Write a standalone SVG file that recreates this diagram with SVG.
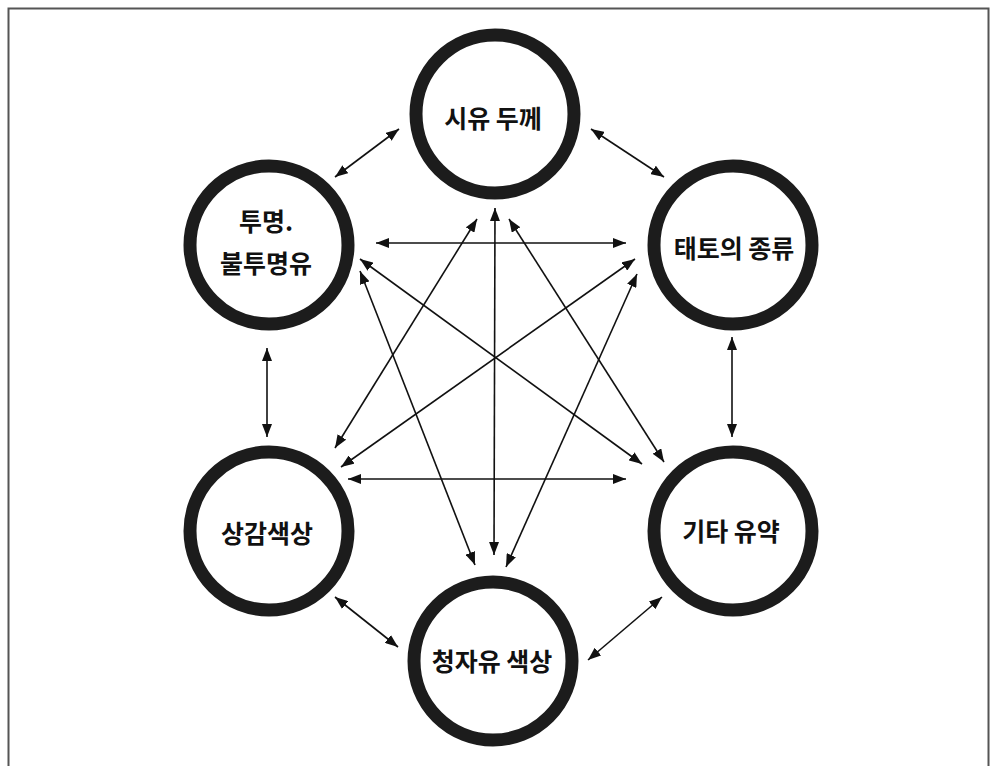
<svg xmlns="http://www.w3.org/2000/svg" width="991" height="766" viewBox="0 0 991 766">
<style>
.node circle{fill:#fff;stroke:#1c1c1c;stroke-width:13}
.node text{font-family:"Noto Sans CJK KR","Noto Sans",sans-serif;font-weight:bold;font-size:25px;fill:#111;text-anchor:middle;dominant-baseline:central}
.conn line{stroke:#111;stroke-width:1.6;marker-start:url(#ah);marker-end:url(#ah)}
</style>
<defs>
<marker id="ah" markerUnits="userSpaceOnUse" markerWidth="13" markerHeight="10" refX="13" refY="5" orient="auto-start-reverse">
<path d="M0,0 L13,5 L0,10 z" fill="#111"/>
</marker>
</defs>
<rect x="0" y="0" width="991" height="766" fill="#fff"/>
<rect x="8.5" y="8.5" width="980" height="770" fill="none" stroke="#555" stroke-width="2"/>
<g class="conn">
<line x1="399" y1="129" x2="335" y2="177"/>
<line x1="591" y1="129" x2="664" y2="177"/>
<line x1="267" y1="348" x2="267" y2="437"/>
<line x1="732" y1="337" x2="732" y2="437"/>
<line x1="376" y1="243" x2="626" y2="243"/>
<line x1="348" y1="479" x2="626" y2="479"/>
<line x1="495" y1="208" x2="494" y2="555"/>
<line x1="477" y1="219" x2="335" y2="448"/>
<line x1="509" y1="219" x2="664" y2="462"/>
<line x1="360" y1="259" x2="642" y2="464"/>
<line x1="360" y1="271" x2="475" y2="565"/>
<line x1="635" y1="259" x2="341" y2="467"/>
<line x1="637" y1="274" x2="506" y2="567"/>
<line x1="335" y1="597" x2="398" y2="647"/>
<line x1="662" y1="597" x2="588" y2="660"/>
</g>
<g id="n-siyu" class="node"><circle cx="495" cy="114" r="79"/><text x="493" y="117">시유 두께</text></g>
<g id="n-tumyeong" class="node"><circle cx="269" cy="245" r="79"/><text x="266" y="220">투명.</text><text x="266" y="262">불투명유</text></g>
<g id="n-taeto" class="node"><circle cx="733" cy="245" r="79"/><text x="734" y="247">태토의 종류</text></g>
<g id="n-sanggam" class="node"><circle cx="269" cy="531" r="79"/><text x="267" y="532">상감색상</text></g>
<g id="n-gita" class="node"><circle cx="733" cy="531" r="79"/><text x="731" y="530">기타 유약</text></g>
<g id="n-cheongja" class="node"><circle cx="493" cy="661" r="79"/><text x="492" y="660">청자유 색상</text></g>
</svg>
